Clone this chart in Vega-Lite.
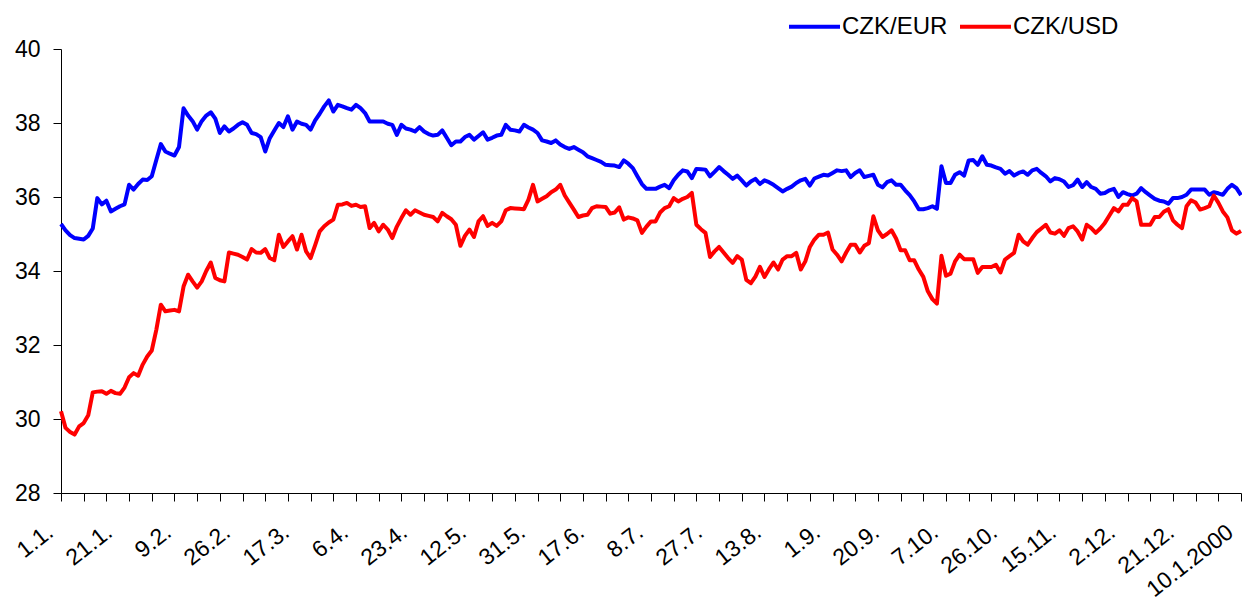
{
  "$schema": "https://vega.github.io/schema/vega-lite/v6.json",
  "width": 1180,
  "height": 444,
  "autosize": {"type": "none"},
  "padding": {"left": 61, "top": 49, "right": 1, "bottom": 109},
  "background": "white",
  "config": {"view": {"stroke": null}, "font": "Liberation Sans"},
  "data": {"values": [
    {"date":"1.1.","CZK/EUR":35.27,"CZK/USD":30.21},
    {"date":"5.1.","CZK/EUR":35.1,"CZK/USD":29.76},
    {"date":"6.1.","CZK/EUR":34.97,"CZK/USD":29.65},
    {"date":"7.1.","CZK/EUR":34.89,"CZK/USD":29.58},
    {"date":"8.1.","CZK/EUR":34.87,"CZK/USD":29.8},
    {"date":"11.1.","CZK/EUR":34.85,"CZK/USD":29.89},
    {"date":"12.1.","CZK/EUR":34.95,"CZK/USD":30.1},
    {"date":"13.1.","CZK/EUR":35.15,"CZK/USD":30.72},
    {"date":"14.1.","CZK/EUR":35.97,"CZK/USD":30.74},
    {"date":"15.1.","CZK/EUR":35.8,"CZK/USD":30.75},
    {"date":"18.1.","CZK/EUR":35.9,"CZK/USD":30.68},
    {"date":"19.1.","CZK/EUR":35.61,"CZK/USD":30.76},
    {"date":"20.1.","CZK/EUR":35.68,"CZK/USD":30.7},
    {"date":"21.1.","CZK/EUR":35.75,"CZK/USD":30.68},
    {"date":"22.1.","CZK/EUR":35.8,"CZK/USD":30.85},
    {"date":"25.1.","CZK/EUR":36.33,"CZK/USD":31.13},
    {"date":"26.1.","CZK/EUR":36.2,"CZK/USD":31.24},
    {"date":"27.1.","CZK/EUR":36.35,"CZK/USD":31.17},
    {"date":"28.1.","CZK/EUR":36.47,"CZK/USD":31.47},
    {"date":"29.1.","CZK/EUR":36.46,"CZK/USD":31.69},
    {"date":"1.2.","CZK/EUR":36.56,"CZK/USD":31.85},
    {"date":"2.2.","CZK/EUR":37.0,"CZK/USD":32.41},
    {"date":"3.2.","CZK/EUR":37.43,"CZK/USD":33.09},
    {"date":"4.2.","CZK/EUR":37.23,"CZK/USD":32.91},
    {"date":"5.2.","CZK/EUR":37.17,"CZK/USD":32.93},
    {"date":"8.2.","CZK/EUR":37.12,"CZK/USD":32.95},
    {"date":"9.2.","CZK/EUR":37.35,"CZK/USD":32.91},
    {"date":"10.2.","CZK/EUR":38.4,"CZK/USD":33.58},
    {"date":"11.2.","CZK/EUR":38.2,"CZK/USD":33.9},
    {"date":"12.2.","CZK/EUR":38.05,"CZK/USD":33.72},
    {"date":"15.2.","CZK/EUR":37.82,"CZK/USD":33.55},
    {"date":"16.2.","CZK/EUR":38.05,"CZK/USD":33.72},
    {"date":"17.2.","CZK/EUR":38.2,"CZK/USD":34.0},
    {"date":"18.2.","CZK/EUR":38.29,"CZK/USD":34.23},
    {"date":"19.2.","CZK/EUR":38.12,"CZK/USD":33.81},
    {"date":"22.2.","CZK/EUR":37.73,"CZK/USD":33.75},
    {"date":"23.2.","CZK/EUR":37.91,"CZK/USD":33.72},
    {"date":"24.2.","CZK/EUR":37.77,"CZK/USD":34.5},
    {"date":"25.2.","CZK/EUR":37.85,"CZK/USD":34.47},
    {"date":"26.2.","CZK/EUR":37.95,"CZK/USD":34.44},
    {"date":"1.3.","CZK/EUR":38.02,"CZK/USD":34.38},
    {"date":"2.3.","CZK/EUR":37.95,"CZK/USD":34.31},
    {"date":"3.3.","CZK/EUR":37.73,"CZK/USD":34.59},
    {"date":"4.3.","CZK/EUR":37.7,"CZK/USD":34.5},
    {"date":"5.3.","CZK/EUR":37.62,"CZK/USD":34.49},
    {"date":"8.3.","CZK/EUR":37.23,"CZK/USD":34.59},
    {"date":"9.3.","CZK/EUR":37.59,"CZK/USD":34.35},
    {"date":"10.3.","CZK/EUR":37.8,"CZK/USD":34.29},
    {"date":"11.3.","CZK/EUR":38.0,"CZK/USD":34.98},
    {"date":"12.3.","CZK/EUR":37.89,"CZK/USD":34.65},
    {"date":"15.3.","CZK/EUR":38.18,"CZK/USD":34.8},
    {"date":"16.3.","CZK/EUR":37.82,"CZK/USD":34.94},
    {"date":"17.3.","CZK/EUR":38.04,"CZK/USD":34.58},
    {"date":"18.3.","CZK/EUR":37.98,"CZK/USD":34.98},
    {"date":"19.3.","CZK/EUR":37.95,"CZK/USD":34.53},
    {"date":"22.3.","CZK/EUR":37.82,"CZK/USD":34.35},
    {"date":"23.3.","CZK/EUR":38.07,"CZK/USD":34.7},
    {"date":"24.3.","CZK/EUR":38.25,"CZK/USD":35.07},
    {"date":"25.3.","CZK/EUR":38.45,"CZK/USD":35.21},
    {"date":"26.3.","CZK/EUR":38.61,"CZK/USD":35.31},
    {"date":"29.3.","CZK/EUR":38.31,"CZK/USD":35.39},
    {"date":"30.3.","CZK/EUR":38.49,"CZK/USD":35.79},
    {"date":"31.3.","CZK/EUR":38.45,"CZK/USD":35.8},
    {"date":"1.4.","CZK/EUR":38.4,"CZK/USD":35.84},
    {"date":"2.4.","CZK/EUR":38.36,"CZK/USD":35.76},
    {"date":"6.4.","CZK/EUR":38.49,"CZK/USD":35.79},
    {"date":"7.4.","CZK/EUR":38.4,"CZK/USD":35.73},
    {"date":"8.4.","CZK/EUR":38.27,"CZK/USD":35.75},
    {"date":"9.4.","CZK/EUR":38.04,"CZK/USD":35.16},
    {"date":"12.4.","CZK/EUR":38.04,"CZK/USD":35.3},
    {"date":"13.4.","CZK/EUR":38.04,"CZK/USD":35.07},
    {"date":"14.4.","CZK/EUR":38.04,"CZK/USD":35.25},
    {"date":"15.4.","CZK/EUR":37.98,"CZK/USD":35.12},
    {"date":"16.4.","CZK/EUR":37.95,"CZK/USD":34.89},
    {"date":"19.4.","CZK/EUR":37.68,"CZK/USD":35.2},
    {"date":"20.4.","CZK/EUR":37.95,"CZK/USD":35.43},
    {"date":"21.4.","CZK/EUR":37.85,"CZK/USD":35.64},
    {"date":"22.4.","CZK/EUR":37.82,"CZK/USD":35.52},
    {"date":"23.4.","CZK/EUR":37.77,"CZK/USD":35.64},
    {"date":"26.4.","CZK/EUR":37.89,"CZK/USD":35.58},
    {"date":"27.4.","CZK/EUR":37.77,"CZK/USD":35.52},
    {"date":"28.4.","CZK/EUR":37.7,"CZK/USD":35.49},
    {"date":"29.4.","CZK/EUR":37.66,"CZK/USD":35.46},
    {"date":"30.4.","CZK/EUR":37.68,"CZK/USD":35.34},
    {"date":"3.5.","CZK/EUR":37.8,"CZK/USD":35.57},
    {"date":"4.5.","CZK/EUR":37.6,"CZK/USD":35.48},
    {"date":"5.5.","CZK/EUR":37.4,"CZK/USD":35.4},
    {"date":"6.5.","CZK/EUR":37.5,"CZK/USD":35.25},
    {"date":"7.5.","CZK/EUR":37.5,"CZK/USD":34.68},
    {"date":"10.5.","CZK/EUR":37.62,"CZK/USD":34.95},
    {"date":"11.5.","CZK/EUR":37.68,"CZK/USD":35.12},
    {"date":"12.5.","CZK/EUR":37.55,"CZK/USD":34.92},
    {"date":"13.5.","CZK/EUR":37.65,"CZK/USD":35.34},
    {"date":"14.5.","CZK/EUR":37.75,"CZK/USD":35.48},
    {"date":"17.5.","CZK/EUR":37.55,"CZK/USD":35.22},
    {"date":"18.5.","CZK/EUR":37.6,"CZK/USD":35.3},
    {"date":"19.5.","CZK/EUR":37.66,"CZK/USD":35.22},
    {"date":"20.5.","CZK/EUR":37.68,"CZK/USD":35.34},
    {"date":"21.5.","CZK/EUR":37.95,"CZK/USD":35.64},
    {"date":"24.5.","CZK/EUR":37.82,"CZK/USD":35.7},
    {"date":"25.5.","CZK/EUR":37.8,"CZK/USD":35.69},
    {"date":"26.5.","CZK/EUR":37.77,"CZK/USD":35.68},
    {"date":"27.5.","CZK/EUR":37.95,"CZK/USD":35.67},
    {"date":"28.5.","CZK/EUR":37.88,"CZK/USD":35.93},
    {"date":"31.5.","CZK/EUR":37.82,"CZK/USD":36.33},
    {"date":"1.6.","CZK/EUR":37.73,"CZK/USD":35.88},
    {"date":"2.6.","CZK/EUR":37.53,"CZK/USD":35.95},
    {"date":"3.6.","CZK/EUR":37.5,"CZK/USD":36.02},
    {"date":"4.6.","CZK/EUR":37.46,"CZK/USD":36.13},
    {"date":"7.6.","CZK/EUR":37.53,"CZK/USD":36.2},
    {"date":"8.6.","CZK/EUR":37.42,"CZK/USD":36.33},
    {"date":"9.6.","CZK/EUR":37.35,"CZK/USD":36.04},
    {"date":"10.6.","CZK/EUR":37.3,"CZK/USD":35.85},
    {"date":"11.6.","CZK/EUR":37.35,"CZK/USD":35.66},
    {"date":"14.6.","CZK/EUR":37.28,"CZK/USD":35.46},
    {"date":"15.6.","CZK/EUR":37.21,"CZK/USD":35.5},
    {"date":"16.6.","CZK/EUR":37.1,"CZK/USD":35.52},
    {"date":"17.6.","CZK/EUR":37.05,"CZK/USD":35.7},
    {"date":"18.6.","CZK/EUR":37.0,"CZK/USD":35.75},
    {"date":"21.6.","CZK/EUR":36.95,"CZK/USD":35.74},
    {"date":"22.6.","CZK/EUR":36.87,"CZK/USD":35.73},
    {"date":"23.6.","CZK/EUR":36.86,"CZK/USD":35.55},
    {"date":"24.6.","CZK/EUR":36.85,"CZK/USD":35.58},
    {"date":"25.6.","CZK/EUR":36.81,"CZK/USD":35.72},
    {"date":"28.6.","CZK/EUR":36.99,"CZK/USD":35.39},
    {"date":"29.6.","CZK/EUR":36.9,"CZK/USD":35.45},
    {"date":"30.6.","CZK/EUR":36.78,"CZK/USD":35.42},
    {"date":"1.7.","CZK/EUR":36.56,"CZK/USD":35.37},
    {"date":"2.7.","CZK/EUR":36.35,"CZK/USD":35.03},
    {"date":"7.7.","CZK/EUR":36.22,"CZK/USD":35.2},
    {"date":"8.7.","CZK/EUR":36.22,"CZK/USD":35.34},
    {"date":"9.7.","CZK/EUR":36.22,"CZK/USD":35.34},
    {"date":"12.7.","CZK/EUR":36.28,"CZK/USD":35.58},
    {"date":"13.7.","CZK/EUR":36.33,"CZK/USD":35.7},
    {"date":"14.7.","CZK/EUR":36.24,"CZK/USD":35.75},
    {"date":"15.7.","CZK/EUR":36.45,"CZK/USD":35.97},
    {"date":"16.7.","CZK/EUR":36.6,"CZK/USD":35.88},
    {"date":"19.7.","CZK/EUR":36.72,"CZK/USD":35.95},
    {"date":"20.7.","CZK/EUR":36.69,"CZK/USD":36.0},
    {"date":"21.7.","CZK/EUR":36.51,"CZK/USD":36.11},
    {"date":"22.7.","CZK/EUR":36.76,"CZK/USD":35.25},
    {"date":"23.7.","CZK/EUR":36.75,"CZK/USD":35.13},
    {"date":"26.7.","CZK/EUR":36.74,"CZK/USD":35.03},
    {"date":"27.7.","CZK/EUR":36.56,"CZK/USD":34.38},
    {"date":"28.7.","CZK/EUR":36.68,"CZK/USD":34.53},
    {"date":"29.7.","CZK/EUR":36.81,"CZK/USD":34.65},
    {"date":"30.7.","CZK/EUR":36.7,"CZK/USD":34.5},
    {"date":"2.8.","CZK/EUR":36.6,"CZK/USD":34.35},
    {"date":"3.8.","CZK/EUR":36.49,"CZK/USD":34.22},
    {"date":"4.8.","CZK/EUR":36.58,"CZK/USD":34.4},
    {"date":"5.8.","CZK/EUR":36.45,"CZK/USD":34.31},
    {"date":"6.8.","CZK/EUR":36.31,"CZK/USD":33.76},
    {"date":"9.8.","CZK/EUR":36.42,"CZK/USD":33.67},
    {"date":"10.8.","CZK/EUR":36.49,"CZK/USD":33.85},
    {"date":"11.8.","CZK/EUR":36.35,"CZK/USD":34.11},
    {"date":"12.8.","CZK/EUR":36.45,"CZK/USD":33.84},
    {"date":"13.8.","CZK/EUR":36.4,"CZK/USD":34.05},
    {"date":"16.8.","CZK/EUR":36.33,"CZK/USD":34.23},
    {"date":"17.8.","CZK/EUR":36.24,"CZK/USD":34.04},
    {"date":"18.8.","CZK/EUR":36.15,"CZK/USD":34.31},
    {"date":"19.8.","CZK/EUR":36.22,"CZK/USD":34.4},
    {"date":"20.8.","CZK/EUR":36.28,"CZK/USD":34.4},
    {"date":"23.8.","CZK/EUR":36.38,"CZK/USD":34.49},
    {"date":"24.8.","CZK/EUR":36.45,"CZK/USD":34.04},
    {"date":"25.8.","CZK/EUR":36.49,"CZK/USD":34.26},
    {"date":"26.8.","CZK/EUR":36.31,"CZK/USD":34.65},
    {"date":"27.8.","CZK/EUR":36.5,"CZK/USD":34.85},
    {"date":"30.8.","CZK/EUR":36.55,"CZK/USD":34.98},
    {"date":"31.8.","CZK/EUR":36.6,"CZK/USD":34.98},
    {"date":"1.9.","CZK/EUR":36.58,"CZK/USD":35.04},
    {"date":"2.9.","CZK/EUR":36.65,"CZK/USD":34.58},
    {"date":"3.9.","CZK/EUR":36.72,"CZK/USD":34.44},
    {"date":"6.9.","CZK/EUR":36.7,"CZK/USD":34.26},
    {"date":"7.9.","CZK/EUR":36.72,"CZK/USD":34.5},
    {"date":"8.9.","CZK/EUR":36.54,"CZK/USD":34.71},
    {"date":"9.9.","CZK/EUR":36.65,"CZK/USD":34.71},
    {"date":"10.9.","CZK/EUR":36.72,"CZK/USD":34.5},
    {"date":"13.9.","CZK/EUR":36.54,"CZK/USD":34.68},
    {"date":"14.9.","CZK/EUR":36.57,"CZK/USD":34.75},
    {"date":"15.9.","CZK/EUR":36.6,"CZK/USD":35.48},
    {"date":"16.9.","CZK/EUR":36.33,"CZK/USD":35.1},
    {"date":"17.9.","CZK/EUR":36.26,"CZK/USD":34.92},
    {"date":"20.9.","CZK/EUR":36.4,"CZK/USD":35.0},
    {"date":"21.9.","CZK/EUR":36.45,"CZK/USD":35.1},
    {"date":"22.9.","CZK/EUR":36.33,"CZK/USD":34.88},
    {"date":"23.9.","CZK/EUR":36.33,"CZK/USD":34.56},
    {"date":"24.9.","CZK/EUR":36.18,"CZK/USD":34.56},
    {"date":"27.9.","CZK/EUR":36.05,"CZK/USD":34.29},
    {"date":"28.9.","CZK/EUR":35.88,"CZK/USD":34.29},
    {"date":"29.9.","CZK/EUR":35.67,"CZK/USD":34.04},
    {"date":"30.9.","CZK/EUR":35.67,"CZK/USD":33.84},
    {"date":"1.10.","CZK/EUR":35.7,"CZK/USD":33.45},
    {"date":"4.10.","CZK/EUR":35.75,"CZK/USD":33.24},
    {"date":"5.10.","CZK/EUR":35.68,"CZK/USD":33.12},
    {"date":"6.10.","CZK/EUR":36.83,"CZK/USD":34.41},
    {"date":"7.10.","CZK/EUR":36.38,"CZK/USD":33.87},
    {"date":"8.10.","CZK/EUR":36.38,"CZK/USD":33.93},
    {"date":"11.10.","CZK/EUR":36.6,"CZK/USD":34.26},
    {"date":"12.10.","CZK/EUR":36.67,"CZK/USD":34.44},
    {"date":"13.10.","CZK/EUR":36.58,"CZK/USD":34.32},
    {"date":"14.10.","CZK/EUR":36.99,"CZK/USD":34.32},
    {"date":"15.10.","CZK/EUR":37.0,"CZK/USD":34.32},
    {"date":"18.10.","CZK/EUR":36.87,"CZK/USD":33.95},
    {"date":"19.10.","CZK/EUR":37.1,"CZK/USD":34.11},
    {"date":"20.10.","CZK/EUR":36.87,"CZK/USD":34.11},
    {"date":"21.10.","CZK/EUR":36.85,"CZK/USD":34.11},
    {"date":"22.10.","CZK/EUR":36.8,"CZK/USD":34.17},
    {"date":"25.10.","CZK/EUR":36.76,"CZK/USD":33.96},
    {"date":"26.10.","CZK/EUR":36.63,"CZK/USD":34.31},
    {"date":"27.10.","CZK/EUR":36.7,"CZK/USD":34.4},
    {"date":"29.10.","CZK/EUR":36.58,"CZK/USD":34.49},
    {"date":"1.11.","CZK/EUR":36.65,"CZK/USD":34.98},
    {"date":"2.11.","CZK/EUR":36.69,"CZK/USD":34.8},
    {"date":"3.11.","CZK/EUR":36.6,"CZK/USD":34.71},
    {"date":"4.11.","CZK/EUR":36.72,"CZK/USD":34.89},
    {"date":"5.11.","CZK/EUR":36.76,"CZK/USD":35.05},
    {"date":"8.11.","CZK/EUR":36.65,"CZK/USD":35.15},
    {"date":"9.11.","CZK/EUR":36.56,"CZK/USD":35.25},
    {"date":"10.11.","CZK/EUR":36.42,"CZK/USD":35.04},
    {"date":"11.11.","CZK/EUR":36.51,"CZK/USD":35.01},
    {"date":"12.11.","CZK/EUR":36.48,"CZK/USD":35.1},
    {"date":"15.11.","CZK/EUR":36.42,"CZK/USD":34.95},
    {"date":"16.11.","CZK/EUR":36.27,"CZK/USD":35.16},
    {"date":"17.11.","CZK/EUR":36.32,"CZK/USD":35.21},
    {"date":"18.11.","CZK/EUR":36.47,"CZK/USD":35.07},
    {"date":"19.11.","CZK/EUR":36.27,"CZK/USD":34.85},
    {"date":"22.11.","CZK/EUR":36.4,"CZK/USD":35.25},
    {"date":"23.11.","CZK/EUR":36.27,"CZK/USD":35.16},
    {"date":"24.11.","CZK/EUR":36.22,"CZK/USD":35.03},
    {"date":"25.11.","CZK/EUR":36.09,"CZK/USD":35.15},
    {"date":"26.11.","CZK/EUR":36.11,"CZK/USD":35.3},
    {"date":"29.11.","CZK/EUR":36.18,"CZK/USD":35.5},
    {"date":"30.11.","CZK/EUR":36.22,"CZK/USD":35.7},
    {"date":"1.12.","CZK/EUR":36.0,"CZK/USD":35.61},
    {"date":"2.12.","CZK/EUR":36.13,"CZK/USD":35.79},
    {"date":"3.12.","CZK/EUR":36.08,"CZK/USD":35.79},
    {"date":"6.12.","CZK/EUR":36.04,"CZK/USD":35.97},
    {"date":"7.12.","CZK/EUR":36.09,"CZK/USD":35.88},
    {"date":"8.12.","CZK/EUR":36.24,"CZK/USD":35.25},
    {"date":"9.12.","CZK/EUR":36.13,"CZK/USD":35.25},
    {"date":"10.12.","CZK/EUR":36.04,"CZK/USD":35.25},
    {"date":"13.12.","CZK/EUR":35.95,"CZK/USD":35.46},
    {"date":"14.12.","CZK/EUR":35.9,"CZK/USD":35.46},
    {"date":"15.12.","CZK/EUR":35.88,"CZK/USD":35.6},
    {"date":"16.12.","CZK/EUR":35.82,"CZK/USD":35.67},
    {"date":"17.12.","CZK/EUR":35.97,"CZK/USD":35.37},
    {"date":"20.12.","CZK/EUR":35.97,"CZK/USD":35.25},
    {"date":"21.12.","CZK/EUR":36.0,"CZK/USD":35.16},
    {"date":"22.12.","CZK/EUR":36.06,"CZK/USD":35.75},
    {"date":"23.12.","CZK/EUR":36.2,"CZK/USD":35.91},
    {"date":"27.12.","CZK/EUR":36.2,"CZK/USD":35.85},
    {"date":"28.12.","CZK/EUR":36.2,"CZK/USD":35.66},
    {"date":"29.12.","CZK/EUR":36.2,"CZK/USD":35.7},
    {"date":"30.12.","CZK/EUR":36.06,"CZK/USD":35.75},
    {"date":"31.12.","CZK/EUR":36.13,"CZK/USD":36.04},
    {"date":"3.1.2000","CZK/EUR":36.1,"CZK/USD":35.85},
    {"date":"4.1.2000","CZK/EUR":36.06,"CZK/USD":35.61},
    {"date":"5.1.2000","CZK/EUR":36.22,"CZK/USD":35.45},
    {"date":"6.1.2000","CZK/EUR":36.33,"CZK/USD":35.1},
    {"date":"7.1.2000","CZK/EUR":36.24,"CZK/USD":35.01},
    {"date":"10.1.2000","CZK/EUR":36.05,"CZK/USD":35.08}
  ]},
  "transform": [{"fold": ["CZK/EUR", "CZK/USD"], "as": ["series", "rate"]}],
  "mark": {"type": "line", "strokeWidth": 4, "strokeJoin": "round", "clip": false},
  "encoding": {
    "x": {
      "field": "date", "type": "ordinal", "sort": null,
      "scale": {"type": "point", "padding": 0},
      "axis": {
        "title": null,
        "values": ["1.1.","11.1.","18.1.","25.1.","1.2.","8.2.","15.2.","22.2.","1.3.","8.3.","15.3.","22.3.","29.3.","6.4.","13.4.","20.4.","27.4.","4.5.","11.5.","18.5.","25.5.","1.6.","8.6.","15.6.","22.6.","29.6.","8.7.","15.7.","22.7.","29.7.","5.8.","12.8.","19.8.","26.8.","2.9.","9.9.","16.9.","23.9.","30.9.","7.10.","14.10.","21.10.","29.10.","5.11.","12.11.","19.11.","26.11.","3.12.","10.12.","17.12.","27.12.","3.1.2000","10.1.2000","21.1.","9.2.","26.2.","17.3.","23.4.","12.5.","31.5.","17.6.","27.7.","13.8.","1.9.","20.9.","26.10.","15.11.","2.12.","21.12."],
        "labelExpr": "indexof(['1.1.','21.1.','9.2.','26.2.','17.3.','6.4.','23.4.','12.5.','31.5.','17.6.','8.7.','27.7.','13.8.','1.9.','20.9.','7.10.','26.10.','15.11.','2.12.','21.12.','10.1.2000'], datum.value) >= 0 ? datum.value : ''",
        "tickOpacity": {"condition": {"test": "indexof(['21.1.','9.2.','26.2.','17.3.','23.4.','12.5.','31.5.','17.6.','27.7.','13.8.','1.9.','20.9.','26.10.','15.11.','2.12.','21.12.'], datum.value) >= 0", "value": 0}, "value": 1},
        "labelAngle": -38,
        "labelAlign": "right",
        "labelBaseline": "middle",
        "labelPadding": 28,
        "labelOffset": -11,
        "labelFont": "Liberation Sans",
        "labelFontSize": 23,
        "labelColor": "#000000",
        "labelOverlap": false,
        "labelBound": false,
        "labelFlush": false,
        "tickSize": 8,
        "tickColor": "#000000",
        "domainColor": "#000000",
        "grid": false
      }
    },
    "y": {
      "field": "rate", "type": "quantitative",
      "scale": {"domain": [28, 40], "nice": false, "zero": false},
      "axis": {
        "title": null,
        "values": [28, 30, 32, 34, 36, 38, 40],
        "format": "d",
        "tickSize": 8,
        "labelPadding": 13,
        "labelFont": "Liberation Sans",
        "labelFontSize": 23,
        "labelColor": "#000000",
        "tickColor": "#000000",
        "domainColor": "#000000",
        "grid": false
      }
    },
    "color": {
      "field": "series", "type": "nominal",
      "scale": {"domain": ["CZK/EUR", "CZK/USD"], "range": ["#0000FF", "#FF0000"]},
      "legend": {
        "title": null,
        "orient": "none",
        "direction": "horizontal",
        "legendX": 726,
        "legendY": -50,
        "padding": 0,
        "symbolType": "stroke",
        "symbolSize": 2601,
        "symbolStrokeWidth": 4,
        "labelOffset": 0,
        "columnPadding": 4,
        "labelFont": "Liberation Sans",
        "labelFontSize": 24,
        "labelColor": "#000000"
      }
    }
  }
}
